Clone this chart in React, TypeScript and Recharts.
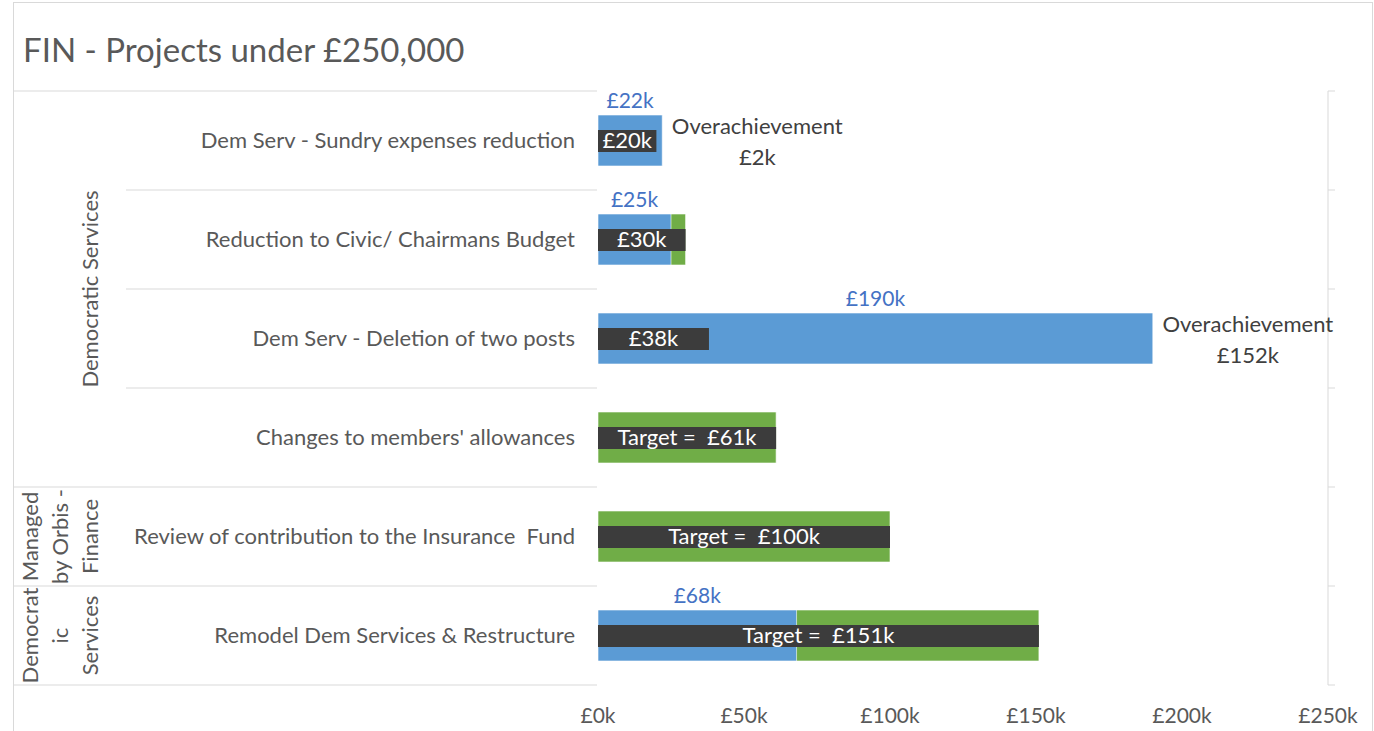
import React from 'react';
import { BarChart, Bar, XAxis, YAxis, LabelList } from 'recharts';

const projects = [
  'Dem Serv - Sundry expenses reduction',
  'Reduction to Civic/ Chairmans Budget',
  'Dem Serv - Deletion of two posts',
  "Changes to members' allowances",
  'Review of contribution to the Insurance  Fund',
  'Remodel Dem Services & Restructure',
];
// savings target, £k
const targets = [20, 30, 38, 61, 100, 151];
// delivered so far, £k (null = nothing reported)
const achieved = [22, 25, 190, null, null, 68];
const overachievement = [2, null, 152, null, null, null];
const targetPrefix = ['', '', '', 'Target =  ', 'Target =  ', 'Target =  '];

const groups = [
  { lines: ['Democratic Services'], rows: 4 },
  { lines: ['Managed', 'by Orbis -', 'Finance'], rows: 1 },
  { lines: ['Democrat', 'ic', 'Services'], rows: 1 },
];
const xTicks = [0, 50, 100, 150, 200, 250];

const data = projects.map((name, i) => ({
  name,
  target: targets[i],
  achieved: achieved[i],
  over: overachievement[i],
}));

const W = 1374;
const H = 731;
const TOP = 91;
const LEFT = 13;
const AXIS_W = 585;
const GROUP_W = 113;
const RIGHT_W = 46;
const X_AXIS_H = 46;
const BAND = (H - TOP - X_AXIS_H) / projects.length;

const FONT = "Lato, 'Open Sans', sans-serif";
const GRID = '#d9d9d9';
const TEXT = '#595959';

const groupAt: Record<number, { lines: string[]; rows: number }> = {};
let acc = 0;
groups.forEach(g => {
  groupAt[acc] = g;
  acc += g.rows;
});

const CategoryTick = (props: any) => {
  const { x, y, payload } = props;
  const i = props.index ?? payload.index;
  const group = groupAt[i];
  const top = y - BAND / 2;
  const lineEnd = x - 1;
  return (
    <g>
      <line x1={group ? LEFT : LEFT + GROUP_W} x2={lineEnd} y1={top} y2={top} stroke={GRID} />
      {i === projects.length - 1 && (
        <line x1={LEFT} x2={lineEnd} y1={y + BAND / 2} y2={y + BAND / 2} stroke={GRID} />
      )}
      <text x={x - 23} y={y + 7} textAnchor="end" fill={TEXT} fontSize={22} fontFamily={FONT} style={{ whiteSpace: 'pre' }}>
        {payload.value}
      </text>
      {group && group.lines.map((line, k) => {
        const cy = y + ((group.rows - 1) * BAND) / 2;
        const bx = LEFT + 85 - (group.lines.length - 1 - k) * 30;
        return (
          <text key={k} x={bx} y={cy} textAnchor="middle" fill={TEXT} fontSize={22} fontFamily={FONT}
            transform={`rotate(-90, ${bx}, ${cy})`}>
            {line}
          </text>
        );
      })}
    </g>
  );
};

const RightTick = (props: any) => {
  const { x, y, payload } = props;
  const i = props.index ?? payload.index;
  return (
    <g>
      <line x1={x} x2={x + 7} y1={y - BAND / 2} y2={y - BAND / 2} stroke={GRID} />
      {i === projects.length - 1 && (
        <line x1={x} x2={x + 7} y1={y + BAND / 2} y2={y + BAND / 2} stroke={GRID} />
      )}
    </g>
  );
};

const XTick = (props: any) => {
  const { x, y, payload } = props;
  return (
    <text x={x} y={y + 38} textAnchor="middle" fill={TEXT} fontSize={21} fontFamily={FONT}>
      {`£${payload.value}k`}
    </text>
  );
};

const AchievedLabel = (props: any) => {
  const { x, y, width, value } = props;
  if (value == null) return null;
  return (
    <text x={x + width / 2} y={y - 7} textAnchor="middle" fill="#4472C4" fontSize={21} fontFamily={FONT}>
      {`£${value}k`}
    </text>
  );
};

const OverLabel = (props: any) => {
  const { x, y, width, height, value } = props;
  if (value == null) return null;
  const cx = x + width + 95;
  const cy = y + height / 2;
  return (
    <text textAnchor="middle" fill="#404040" fontSize={22} fontFamily={FONT}>
      <tspan x={cx} y={cy - 7}>Overachievement</tspan>
      <tspan x={cx} y={cy + 24}>{`£${value}k`}</tspan>
    </text>
  );
};

const TargetLabel = (props: any) => {
  const { x, y, width, height, value, index } = props;
  return (
    <text x={x + width / 2} y={y + height / 2 + 7} textAnchor="middle" fill="#ffffff" fontSize={22}
      fontFamily={FONT} style={{ whiteSpace: 'pre' }}>
      {`${targetPrefix[index]}£${value}k`}
    </text>
  );
};

export default function App() {
  return (
    <div style={{ position: 'absolute', left: 0, top: 0, width: W, height: H, overflow: 'hidden', background: '#fff' }}>
      <div style={{
        position: 'absolute', left: LEFT, top: 2, width: W - LEFT - 1, height: H + 20,
        border: `1px solid ${GRID}`, boxSizing: 'border-box',
      }} />
      <div style={{
        position: 'absolute', left: 23, top: 33, fontSize: 33, lineHeight: '33px',
        fontFamily: FONT, color: TEXT, whiteSpace: 'nowrap',
      }}>
        FIN - Projects under £250,000
      </div>
      <div style={{ position: 'absolute', left: 0, top: 0 }}>
        <BarChart
          width={W}
          height={H}
          data={data}
          layout="vertical"
          margin={{ top: TOP, right: 0, bottom: 0, left: LEFT }}
        >
          <XAxis
            type="number"
            domain={[0, 250]}
            ticks={xTicks}
            height={X_AXIS_H}
            axisLine={false}
            tickLine={false}
            tickSize={0}
            tickMargin={0}
            tick={XTick}
          />
          <YAxis
            yAxisId="left"
            type="category"
            dataKey="name"
            width={AXIS_W}
            axisLine={false}
            tickLine={false}
            tickSize={0}
            tickMargin={0}
            interval={0}
            tick={CategoryTick}
          />
          <YAxis yAxisId="blue" type="category" dataKey="name" width={0} hide />
          <YAxis
            yAxisId="right"
            orientation="right"
            type="category"
            dataKey="name"
            width={RIGHT_W}
            axisLine={{ stroke: GRID }}
            tickLine={false}
            tickSize={0}
            tickMargin={0}
            interval={0}
            tick={RightTick}
          />
          <Bar yAxisId="left" dataKey="target" fill="#70AD47" barSize={51}
            stroke="#ffffff" strokeWidth={0.6} isAnimationActive={false} />
          <Bar yAxisId="blue" dataKey="achieved" fill="#5B9BD5" barSize={51}
            stroke="#ffffff" strokeWidth={0.6} isAnimationActive={false}>
            <LabelList dataKey="achieved" content={AchievedLabel} />
            <LabelList dataKey="over" content={OverLabel} />
          </Bar>
          <Bar yAxisId="right" dataKey="target" fill="#3C3C3C" barSize={22} isAnimationActive={false}>
            <LabelList dataKey="target" content={TargetLabel} />
          </Bar>
        </BarChart>
      </div>
    </div>
  );
}
